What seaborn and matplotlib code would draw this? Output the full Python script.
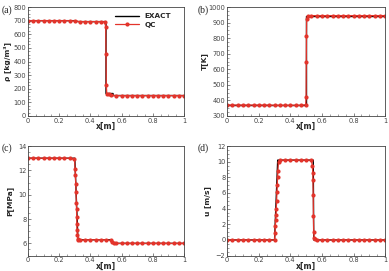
import matplotlib
matplotlib.use("Agg")
import matplotlib.pyplot as plt
import seaborn as sns
import pandas as pd
from matplotlib.ticker import MultipleLocator, AutoMinorLocator

# ---------------- data ----------------
# (a) density
rho_exact_x = [0.0, 0.300, 0.320, 0.500, 0.500, 0.545, 0.545, 1.0]
rho_exact_y = [700, 700, 693, 693, 165, 165, 150, 150]
rho_qc_x = [0.000, 0.033, 0.067, 0.100, 0.133, 0.167, 0.200, 0.233, 0.267, 0.300,
            0.333, 0.367, 0.400, 0.433, 0.467, 0.492, 0.498, 0.500, 0.502, 0.505,
            0.520, 0.533, 0.567, 0.600, 0.633, 0.667, 0.700, 0.733, 0.767, 0.800,
            0.833, 0.867, 0.900, 0.933, 0.967, 1.000]
rho_qc_y = [700, 700, 700, 700, 700, 700, 700, 700, 700, 698,
            693, 693, 693, 693, 693, 692, 655, 455, 225, 165,
            158, 152, 150, 150, 150, 150, 150, 150, 150, 150,
            150, 150, 150, 150, 150, 150]

# (b) temperature
T_exact_x = [0.0, 0.500, 0.500, 1.0]
T_exact_y = [370, 370, 945, 945]
T_qc_x = [0.000, 0.033, 0.067, 0.100, 0.133, 0.167, 0.200, 0.233, 0.267, 0.300,
          0.333, 0.367, 0.400, 0.433, 0.467, 0.497, 0.500, 0.501, 0.502, 0.503,
          0.510, 0.533, 0.567, 0.600, 0.633, 0.667, 0.700, 0.733, 0.767, 0.800,
          0.833, 0.867, 0.900, 0.933, 0.967, 1.000]
T_qc_y = [370, 370, 370, 370, 370, 370, 370, 370, 370, 369,
          369, 369, 369, 369, 369, 372, 425, 645, 815, 920,
          945, 945, 945, 945, 945, 945, 945, 945, 945, 945,
          945, 945, 945, 945, 945, 945]

# (c) pressure
P_exact_x = [0.0, 0.300, 0.320, 0.535, 0.545, 1.0]
P_exact_y = [13.0, 13.0, 6.3, 6.3, 6.0, 6.0]
P_qc_x = [0.000, 0.033, 0.067, 0.100, 0.133, 0.167, 0.200, 0.233, 0.267, 0.298,
          0.302, 0.304, 0.306, 0.308, 0.310, 0.311, 0.312, 0.313, 0.314, 0.316,
          0.318, 0.322, 0.333, 0.367, 0.400, 0.433, 0.467, 0.500, 0.530, 0.540,
          0.550, 0.567, 0.600, 0.633, 0.667, 0.700, 0.733, 0.767, 0.800, 0.833,
          0.867, 0.900, 0.933, 0.967, 1.000]
P_qc_y = [13.0, 13.0, 13.0, 13.0, 13.0, 13.0, 13.0, 13.0, 13.0, 12.9,
          12.1, 11.6, 10.9, 10.2, 9.3, 8.8, 8.2, 7.6, 7.1, 6.7,
          6.4, 6.3, 6.25, 6.3, 6.3, 6.3, 6.3, 6.3, 6.25, 6.1,
          6.0, 6.0, 6.0, 6.0, 6.0, 6.0, 6.0, 6.0, 6.0, 6.0,
          6.0, 6.0, 6.0, 6.0, 6.0]

# (d) velocity
u_exact_x = [0.0, 0.300, 0.320, 0.545, 0.548, 1.0]
u_exact_y = [0.0, 0.0, 10.2, 10.2, 0.0, 0.0]
u_qc_x = [0.000, 0.033, 0.067, 0.100, 0.133, 0.167, 0.200, 0.233, 0.267, 0.300,
          0.303, 0.305, 0.307, 0.309, 0.311, 0.313, 0.315, 0.317, 0.319, 0.321,
          0.325, 0.333, 0.367, 0.400, 0.433, 0.467, 0.500, 0.533, 0.540, 0.542,
          0.543, 0.545, 0.546, 0.548, 0.550, 0.555, 0.567, 0.600, 0.633, 0.667,
          0.700, 0.733, 0.767, 0.800, 0.833, 0.867, 0.900, 0.933, 0.967, 1.000]
u_qc_y = [0.0, 0.0, 0.0, 0.0, 0.0, 0.0, 0.0, 0.0, 0.0, 0.0,
          0.9, 1.8, 2.5, 3.2, 4.0, 5.0, 6.1, 7.0, 8.0, 8.8,
          10.0, 10.2, 10.2, 10.2, 10.2, 10.2, 10.2, 10.2, 9.4, 8.6,
          7.6, 5.7, 3.0, 1.0, 0.3, 0.1, 0.0, 0.0, 0.0, 0.0,
          0.0, 0.0, 0.0, 0.0, 0.0, 0.0, 0.0, 0.0, 0.0, 0.0]

x_ticks = [0, 0.2, 0.4, 0.6, 0.8, 1]
x_ticklabels = ["0", "0.2", "0.4", "0.6", "0.8", "1"]

# ---------------- style ----------------
sns.set_style("ticks")
plt.rcParams["font.family"] = ["DejaVu Sans"]

RED = "#e3342b"
fig = plt.figure(figsize=(3.89, 2.71), dpi=100)

panels = [
    dict(pos=[0.072, 0.572, 0.401, 0.402], ex=(rho_exact_x, rho_exact_y), qc=(rho_qc_x, rho_qc_y),
         ylim=(0, 800), ymaj=100, ylabel="ρ [kg/m³]", tag="(a)", tagpos=(0.004, 0.952),
         ylx=-0.112),
    dict(pos=[0.584, 0.572, 0.406, 0.402], ex=(T_exact_x, T_exact_y), qc=(T_qc_x, T_qc_y),
         ylim=(300, 1000), ymaj=100, ylabel="T[K]", tag="(b)", tagpos=(0.508, 0.952),
         ylx=-0.125),
    dict(pos=[0.072, 0.057, 0.401, 0.404], ex=(P_exact_x, P_exact_y), qc=(P_qc_x, P_qc_y),
         ylim=(5, 14), ymaj=2, ylabel="P[MPa]", tag="(c)", tagpos=(0.004, 0.444), yt=[6, 8, 10, 12, 14],
         ylx=-0.095),
    dict(pos=[0.584, 0.057, 0.406, 0.404], ex=(u_exact_x, u_exact_y), qc=(u_qc_x, u_qc_y),
         ylim=(-2, 12), ymaj=2, ylabel="u [m/s]", tag="(d)", tagpos=(0.508, 0.444),
         ylx=-0.1),
]

for i, p in enumerate(panels):
    ax = fig.add_axes(p["pos"])
    dfe = pd.DataFrame({"x": p["ex"][0], "y": p["ex"][1]})
    dfq = pd.DataFrame({"x": p["qc"][0], "y": p["qc"][1]})
    sns.lineplot(data=dfe, x="x", y="y", ax=ax, color="black", lw=1.0,
                 sort=False, estimator=None, label="EXACT")
    sns.lineplot(data=dfq, x="x", y="y", ax=ax, color=RED, lw=0.9,
                 marker="o", markersize=3.0, markeredgewidth=0, sort=False,
                 estimator=None, label="QC")
    ax.set_xlim(0, 1)
    ax.set_ylim(*p["ylim"])
    ax.set_xticks(x_ticks)
    ax.set_xticklabels(x_ticklabels)
    if "yt" in p:
        ax.set_yticks(p["yt"])
    else:
        ax.yaxis.set_major_locator(MultipleLocator(p["ymaj"]))
    ax.xaxis.set_minor_locator(AutoMinorLocator(4))
    ax.yaxis.set_minor_locator(AutoMinorLocator(4))
    ax.tick_params(which="both", direction="in", top=False, right=False,
                   labelsize=4.8, labelcolor="#444444", color="#555555", pad=1.2)
    ax.tick_params(which="major", length=2.5, width=0.5)
    ax.tick_params(which="minor", length=1.3, width=0.4)
    for s in ax.spines.values():
        s.set_linewidth(0.6)
        s.set_color("#444444")
    ax.set_xlabel("x[m]", fontsize=5.6, fontweight="bold")
    ax.xaxis.set_label_coords(0.5, -0.055, transform=ax.transAxes)
    ax.xaxis.label.set_va("top")
    ax.set_ylabel(p["ylabel"], fontsize=5.4, fontweight="bold")
    ax.yaxis.set_label_coords(p["ylx"], 0.5, transform=ax.transAxes)
    if i == 0:
        leg = ax.legend(loc="upper left", bbox_to_anchor=(0.54, 0.97), frameon=False,
                        fontsize=5.2, handlelength=3.3, handletextpad=0.8,
                        labelspacing=0.35, borderaxespad=0)
        for t in leg.get_texts():
            t.set_fontweight("bold")
    else:
        ax.get_legend().remove()
    fig.text(p["tagpos"][0], p["tagpos"][1], p["tag"], fontsize=7,
             family=["Liberation Serif", "DejaVu Serif"], color="#222222")

fig.savefig("out.png", dpi=100)
